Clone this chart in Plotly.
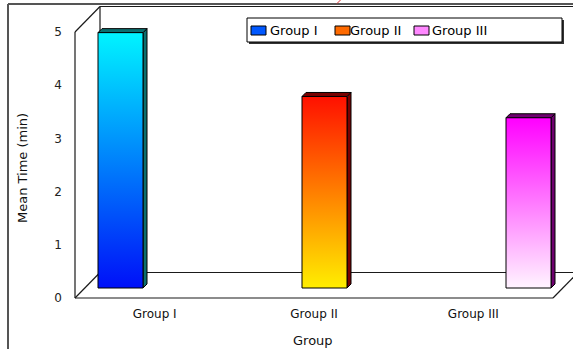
import plotly.graph_objects as go

# ---------------- data ----------------
CATEGORIES = ["Group I", "Group II", "Group III"]
MEAN_TIME = [4.8, 3.6, 3.2]
Y_TICKS = [0, 1, 2, 3, 4, 5]
X_TITLE = "Group"
Y_TITLE = "Mean Time (min)"

# ---------------- styles ----------------
FRONT_BOTTOM = ["#0010f8", "#ffee00", "#fff4ff"]
FRONT_TOP = ["#00f4ff", "#ff1000", "#ff00ff"]
SIDE_COL = ["#0b6f6f", "#7a0000", "#6e006e"]
SWATCH_COL = ["#0058ff", "#ff6a00", "#ff88ff"]
FONT = "DejaVu Sans"

W, H = 573, 349
ML, MR, MT, MB = 70, 0, 4, 46
PX_PER_CAT = 204.0      # horizontal pixels between category centres
PX_PER_UNIT = 53.2      # vertical pixels per y unit
CAT0_PX = 120.5         # pixel position of first category centre
ZERO_PX = 298           # pixel row of y = 0 on the front plane

BAR_W = 45 / PX_PER_CAT
BAR_BASE = 10 / PX_PER_UNIT
BAR_DX = 4 / PX_PER_CAT
BAR_DY = 4 / PX_PER_UNIT
WALL_DX = 25 / PX_PER_CAT
WALL_DY = 25.5 / PX_PER_UNIT
FRONT_LEFT = (75 - CAT0_PX) / PX_PER_CAT
FRONT_RIGHT = (553 - CAT0_PX) / PX_PER_CAT

x_range = [(ML - CAT0_PX) / PX_PER_CAT, (W - MR - CAT0_PX) / PX_PER_CAT]
y_range = [(ZERO_PX - (H - MB)) / PX_PER_UNIT, (ZERO_PX - MT) / PX_PER_UNIT]


def pxx(p):
    return (p - ML) / (W - ML - MR)


def pxy(p):
    return (H - MB - p) / (H - MT - MB)


fig = go.Figure()

# ---------------- bars (3D look) ----------------
for i, (cat, v) in enumerate(zip(CATEGORIES, MEAN_TIME)):
    x0, x1 = i - BAR_W / 2, i + BAR_W / 2
    y0, y1 = BAR_BASE, BAR_BASE + v
    # side face
    fig.add_trace(go.Scatter(
        x=[x1, x1 + BAR_DX, x1 + BAR_DX, x1, x1],
        y=[y0, y0 + BAR_DY, y1 + BAR_DY, y1, y0],
        fill="toself", fillcolor=SIDE_COL[i], mode="lines",
        line=dict(color="#000000", width=1), hoverinfo="skip", showlegend=False))
    # top face
    fig.add_trace(go.Scatter(
        x=[x0, x0 + BAR_DX, x1 + BAR_DX, x1, x0],
        y=[y1, y1 + BAR_DY, y1 + BAR_DY, y1, y1],
        fill="toself", fillcolor=SIDE_COL[i], mode="lines",
        line=dict(color="#000000", width=1), hoverinfo="skip", showlegend=False))
    # front face with gradient
    fig.add_trace(go.Scatter(
        x=[x0, x1, x1, x0, x0],
        y=[y0, y0, y1, y1, y0],
        fill="toself",
        fillgradient=dict(type="vertical",
                          colorscale=[[0, FRONT_BOTTOM[i]], [1, FRONT_TOP[i]]]),
        mode="lines", line=dict(color="#000000", width=1),
        name=cat, hoverinfo="skip", showlegend=False))

# ---------------- 3D frame ----------------
frame_col = "#1a1a1a"
top_tick = max(Y_TICKS)
xb = FRONT_LEFT + WALL_DX
segments = [
    (FRONT_LEFT, 0, FRONT_LEFT, top_tick),
    (FRONT_LEFT, top_tick, xb, top_tick + WALL_DY),
    (xb, WALL_DY, xb, top_tick + WALL_DY),
    (xb, top_tick + WALL_DY, x_range[1] + 1, top_tick + WALL_DY),
    (xb, WALL_DY, x_range[1] + 1, WALL_DY),
    (FRONT_LEFT, 0, xb, WALL_DY),
    (FRONT_LEFT, 0, FRONT_RIGHT, 0),
    (FRONT_RIGHT, 0, FRONT_RIGHT + WALL_DX, WALL_DY),
]
shapes = []
for (a, b, c, d) in segments:
    shapes.append(dict(type="line", xref="x", yref="y", x0=a, y0=b, x1=c, y1=d,
                       line=dict(color=frame_col, width=1.2), layer="below"))

# outer frame of picture
shapes.append(dict(type="line", xref="paper", yref="paper",
                   x0=pxx(8), y0=pxy(4), x1=pxx(8), y1=pxy(352),
                   line=dict(color="#555555", width=2)))
shapes.append(dict(type="line", xref="paper", yref="paper",
                   x0=pxx(8), y0=pxy(4), x1=pxx(580), y1=pxy(4),
                   line=dict(color="#555555", width=2)))
# small red stroke at top edge
shapes.append(dict(type="line", xref="paper", yref="paper",
                   x0=pxx(337), y0=pxy(3.5), x1=pxx(341), y1=pxy(-0.5),
                   line=dict(color="#e03030", width=1)))

# ---------------- legend (boxed, horizontal) ----------------
shapes.append(dict(type="rect", xref="paper", yref="paper",
                   x0=pxx(249), y0=pxy(20), x1=pxx(564), y1=pxy(44),
                   line=dict(width=0), fillcolor="#333333"))
shapes.append(dict(type="rect", xref="paper", yref="paper",
                   x0=pxx(247), y0=pxy(18), x1=pxx(562), y1=pxy(42),
                   line=dict(color="#000000", width=1), fillcolor="#ffffff"))
annotations = []
sw_x = [251, 335, 414]
txt_x = [268, 348, 430]
for i, cat in enumerate(CATEGORIES):
    shapes.append(dict(type="rect", xref="paper", yref="paper",
                       x0=pxx(sw_x[i]), y0=pxy(26), x1=pxx(sw_x[i] + 15), y1=pxy(35),
                       line=dict(color="#000000", width=1), fillcolor=SWATCH_COL[i]))
    annotations.append(dict(xref="paper", yref="paper", x=pxx(txt_x[i]), y=pxy(30.5),
                            text=cat, showarrow=False, xanchor="left", yanchor="middle",
                            font=dict(family=FONT, size=13, color="#000000")))

# axis titles
annotations.append(dict(xref="paper", yref="paper", x=pxx(313), y=pxy(340),
                        text=X_TITLE, showarrow=False, xanchor="center", yanchor="middle",
                        font=dict(family=FONT, size=13, color="#111111")))
annotations.append(dict(xref="paper", yref="paper", x=pxx(22), y=pxy(168),
                        text=Y_TITLE, showarrow=False, textangle=-90,
                        xanchor="center", yanchor="middle",
                        font=dict(family=FONT, size=13, color="#111111")))

# category tick positions on the front floor edge
span = (FRONT_RIGHT - FRONT_LEFT) / len(CATEGORIES)
tick_pos = [FRONT_LEFT + (k + 0.5) * span for k in range(len(CATEGORIES))]

fig.update_layout(
    width=W, height=H, autosize=False,
    margin=dict(l=ML, r=MR, t=MT, b=MB, pad=0),
    paper_bgcolor="#ffffff", plot_bgcolor="#ffffff",
    shapes=shapes, annotations=annotations, showlegend=False,
    xaxis=dict(range=x_range, tickvals=tick_pos, ticktext=CATEGORIES,
               showgrid=False, zeroline=False, showline=False, ticks="",
               ticklabelstandoff=2,
               tickfont=dict(family=FONT, size=12, color="#111111"), fixedrange=True),
    yaxis=dict(range=y_range, tickvals=Y_TICKS, showgrid=False, zeroline=False,
               showline=False, ticks="", ticklabelstandoff=7,
               tickfont=dict(family=FONT, size=12, color="#222222"), fixedrange=True),
)

fig.write_html("out.html", config={"displayModeBar": False},
               post_script="document.body.style.margin='0';document.body.style.overflow='hidden';")
